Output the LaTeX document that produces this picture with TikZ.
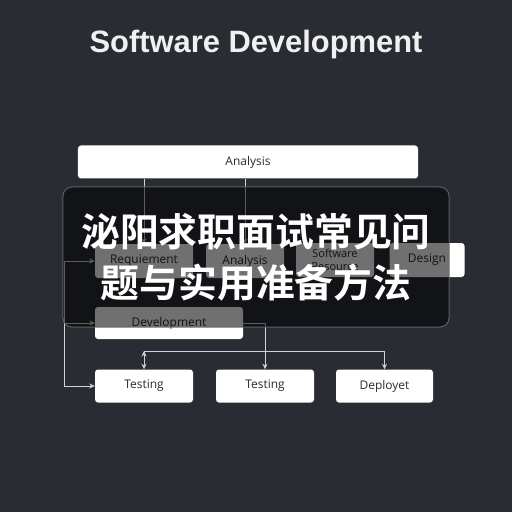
\documentclass[tikz,border=0pt]{standalone}
\usepackage{fontspec}
\setmainfont{Open Sans}
\newfontfamily\titlefont{Liberation Sans}
\newfontfamily\cjk{Noto Sans CJK SC}[BoldFont={Noto Sans CJK SC Bold}]
\usetikzlibrary{positioning, arrows.meta}
\definecolor{bgcol}{HTML}{2A2C33}
\definecolor{wire}{HTML}{D2D2D4}
\definecolor{ink}{HTML}{2B2B2B}

\begin{document}
\begin{tikzpicture}[
    x=1bp, y=-1bp,
    >={Stealth[length=5.5bp, width=5bp]},
    stage/.style={draw=none, fill=white, rounded corners=3bp, minimum height=33bp,
                  text=ink, font=\fontsize{12}{14}\selectfont, inner sep=2bp},
    wire/.style={draw=wire, line width=0.8bp},
    veil/.style={fill=black, fill opacity=0.56, draw=white!40!black, draw opacity=0.9,
                 line width=1bp, rounded corners=9bp}
]
   \fill[bgcol] (0,0) rectangle (512,512);
   \useasboundingbox (0,0) rectangle (512,512);

   % Title
   \node[text=white!94!black, font=\titlefont\bfseries\fontsize{31}{36}\selectfont] (title) at (256,45) {Software Development};

   % Stages
   \node[stage, minimum width=340bp] (ana) at (248,162) {Analysis};

   \node[stage, minimum width=98bp, minimum height=34bp] (req) at (144,261) {Requiement};
   \node[stage, minimum width=78bp, minimum height=34bp] (ana2) at (245,261) {Analysis};
   \node[stage, minimum width=78bp, minimum height=34bp, align=center, font=\fontsize{11}{13}\selectfont] (soft) at (335,260) {Software\\Resource};
   \node[stage, minimum width=75bp, minimum height=34bp] (des) at (427,260) {Design};

   \node[stage, minimum width=148bp, minimum height=32bp] (dev) at (169,323) {Development};

   \node[stage, minimum width=98bp] (tst1) at (144,386) {Testing};
   \node[stage, minimum width=98bp] (tst2) at (265,386) {Testing};
   \node[stage, minimum width=97bp] (dep) at (384.5,386) {Deployet};

   \coordinate (trunk) at (64,261);
   \coordinate (bus) at (144,351);

   % Connectors
   \path[wire, ->]
   (ana.south -| req.north) edge (req.north)
   (ana.south -| ana2.north) edge (ana2.north)
   (trunk) edge (req.west)
   (bus) edge (tst1.north);

   \draw[wire, ->] (trunk) |- (dev.west);
   \draw[wire, ->] (trunk) |- (tst1.west);
   \draw[wire, ->] (dev.east) -| (tst2.north);
   \draw[wire, ->] (bus) -| (dep.north);

   % Banner
   \node[veil, minimum width=386bp, minimum height=140bp] (banner) at (256,257) {};
   \node[text=white, align=center, font=\cjk\bfseries\fontsize{39}{51}\selectfont] (caption) at (256,257) {泌阳求职面试常见问\\题与实用准备方法};

\end{tikzpicture}
\end{document}
